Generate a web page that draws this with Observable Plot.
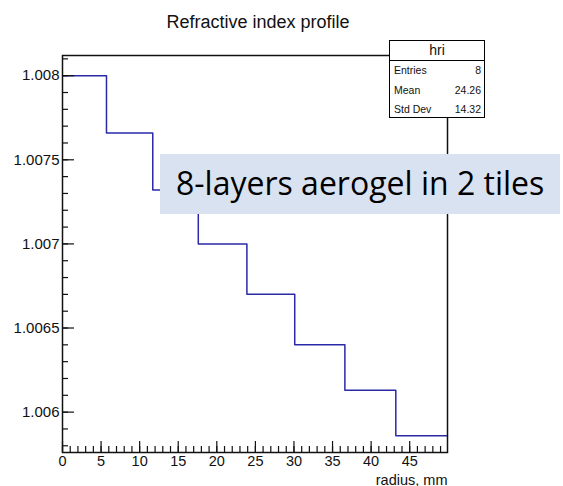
<!DOCTYPE html>
<html>
<head>
<meta charset="utf-8">
<script src="https://cdn.jsdelivr.net/npm/d3@7"></script>
<script src="https://cdn.jsdelivr.net/npm/@observablehq/plot@0.6"></script>
<style>
  html, body { margin: 0; padding: 0; background: #fff; }
  #wrap { position: relative; width: 563px; height: 486px; font-family: "Liberation Sans", Arial, sans-serif; }
  #stats {
    position: absolute; left: 389px; top: 40px; width: 96px; height: 78px;
    box-sizing: border-box; border: 1.3px solid #000; background: #fff; font-size: 10.5px; color: #111;
  }
  #stats .head { height: 19px; line-height: 19px; text-align: center; font-size: 14px; border-bottom: 1.3px solid #000; }
  #stats .row { display: flex; justify-content: space-between; padding: 0 3px 0 4px; height: 19.5px; line-height: 19.5px; }
  #note {
    position: absolute; left: 160px; top: 154px; width: 400px; height: 60px;
    background: #d9e2f1; color: #000; font-family: "Open Sans", "Noto Sans", sans-serif;
    font-size: 32px; line-height: 58px; box-sizing: border-box; padding-left: 16px; white-space: nowrap;
  }
</style>
</head>
<body>
<div id="wrap"></div>
<script>
// Variable-width radial layers and the refractive index of each layer
const binEdges = [0, 5.7, 11.7, 17.6, 23.9, 30.1, 36.6, 43.2, 49.9];
const binValues = [1.008, 1.00766, 1.00732, 1.0070, 1.0067, 1.0064, 1.00613, 1.00586];

// Axis ticks
const xMajorTicks = [0, 5, 10, 15, 20, 25, 30, 35, 40, 45];
const xMinorTicks = d3.range(0, 50, 1);
const yMajorTicks = [1.006, 1.0065, 1.007, 1.0075, 1.008];
const yTickLabels = ["1.006", "1.0065", "1.007", "1.0075", "1.008"];
const yMinorTicks = d3.range(10058, 10082, 1).map(v => v / 10000);

// Statistics box
const histName = "hri";
const statLabels = ["Entries", "Mean", "Std Dev"];
const statValues = ["8", "24.26", "14.32"];

const chartTitle = "Refractive index profile";
const xLabel = "radius, mm";
const noteText = "8-layers aerogel in 2 tiles";

// Histogram outline: each bin's value held across its width
const steps = binEdges.map((e, i) => ({x: e, y: binValues[Math.min(i, binValues.length - 1)]}));

const font = "Liberation Sans, Arial, sans-serif";

const chart = Plot.plot({
  width: 563,
  height: 486,
  marginLeft: 62,
  marginRight: 116,
  marginTop: 55,
  marginBottom: 34,
  style: {fontFamily: font, background: "#fff", color: "#111"},
  x: {domain: [0, 49.9]},
  y: {domain: [1.00576, 1.00812]},
  marks: [
    Plot.line(steps, {x: "x", y: "y", curve: "step-after", stroke: "#2a2aa8", strokeWidth: 1.5}),
    // inward ticks
    Plot.axisX({ticks: xMinorTicks, tickSize: -6, fill: "none", stroke: "#111", strokeWidth: 1.2}),
    Plot.axisX({ticks: xMajorTicks, tickSize: -11, fill: "none", stroke: "#111", strokeWidth: 1.2}),
    Plot.axisY({ticks: yMinorTicks, tickSize: -6, fill: "none", stroke: "#111", strokeWidth: 1.2}),
    Plot.axisY({ticks: yMajorTicks, tickSize: -12, fill: "none", stroke: "#111", strokeWidth: 1.2}),
    // tick labels
    Plot.axisX({ticks: xMajorTicks, tickSize: 0, tickPadding: 3, fontSize: 14.5, label: null, tickFormat: d => String(d)}),
    Plot.axisY({ticks: yMajorTicks, tickSize: 0, tickPadding: 3, fontSize: 15, label: null, tickFormat: (d, i) => yTickLabels[i]}),
    Plot.frame({stroke: "#111", strokeWidth: 1.5}),
    Plot.text([chartTitle], {frameAnchor: "top", dx: 3, dy: -40, fontSize: 18, fill: "#111"}),
    Plot.text([xLabel], {frameAnchor: "bottom-right", textAnchor: "end", lineAnchor: "bottom", dy: 32, fontSize: 14.5, fill: "#111"})
  ]
});

const wrap = document.getElementById("wrap");
wrap.appendChild(chart);

const stats = document.createElement("div");
stats.id = "stats";
stats.innerHTML = `<div class="head">${histName}</div>` +
  statLabels.map((l, i) => `<div class="row"><span>${l}</span><span>${statValues[i]}</span></div>`).join("");
wrap.appendChild(stats);

const note = document.createElement("div");
note.id = "note";
note.textContent = noteText;
wrap.appendChild(note);
</script>
</body>
</html>
